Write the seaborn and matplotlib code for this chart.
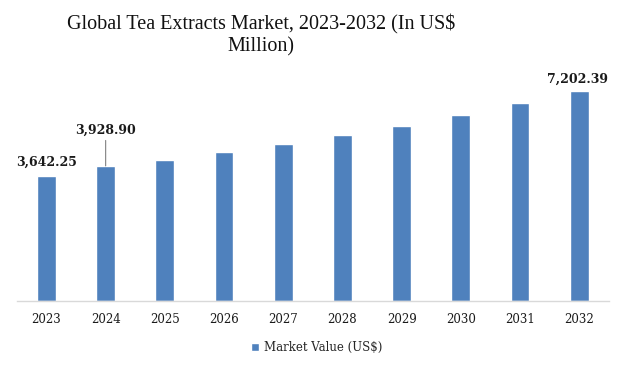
import matplotlib
matplotlib.use("Agg")
import matplotlib.pyplot as plt
import seaborn as sns
import pandas as pd

# ---- data ----
years = ["2023", "2024", "2025", "2026", "2027", "2028", "2029", "2030", "2031", "2032"]
values = [3642.25, 3928.90, 4109, 4333, 4566, 4829, 5091, 5403, 5752, 6102]
label_years = ["2023", "2024", "2032"]
label_texts = ["3,642.25", "3,928.90", "7,202.39"]
series_name = "Market Value (US$)"
title = "Global Tea Extracts Market, 2023-2032 (In US$\nMillion)"

sns.set_theme(style="white")
plt.rcParams['font.family'] = ['DejaVu Serif']

fig = plt.figure(figsize=(6.25, 3.67), dpi=100)
ax = fig.add_axes([0.027, 0.181, 0.947, 0.628])

df = pd.DataFrame({"Year": years, "Value": values})
sns.barplot(data=df, x="Year", y="Value", color="#4F81BD", saturation=1,
            width=0.316, ax=ax, label=series_name)
ax.set_ylim(0, 6723)
ax.set_xlim(-0.5, 9.5)

for s in ["top", "right", "left"]:
    ax.spines[s].set_visible(False)
ax.spines["bottom"].set_color("#D9D9D9")
ax.spines["bottom"].set_linewidth(1)
ax.set_yticks([])
ax.set_xlabel("")
ax.set_ylabel("")
ax.tick_params(axis="x", length=0, pad=9, labelsize=8.5, labelcolor="#1a1a1a")

offsets = {"2023": (0, 9.4, False), "2024": (0, 25.6, True), "2032": (-1.5, 8.6, False)}
for yr, txt in zip(label_years, label_texts):
    i = years.index(yr)
    v = values[i]
    dx, dy, leader = offsets[yr]
    if leader:
        ax.annotate("", xy=(i, v), xytext=(0, dy - 7.3), textcoords="offset points",
                    arrowprops=dict(arrowstyle="-", color="#808080", lw=0.8,
                                    shrinkA=0, shrinkB=0))
    ax.annotate(txt, xy=(i, v), xytext=(dx, dy), textcoords="offset points",
                ha="center", va="center", fontsize=9, fontweight="bold", color="#1a1a1a")

fig.text(0.418, 0.904, title, ha="center", va="center", fontsize=14.5,
         family=["Liberation Serif", "DejaVu Serif"], color="#111111", linespacing=1.22)

leg = ax.legend(loc="center", bbox_to_anchor=(0.506, 0.052), bbox_transform=fig.transFigure,
                frameon=False, fontsize=8.5, handlelength=0.7, handleheight=0.7,
                handletextpad=0.4)

fig.savefig("out.png", dpi=100)
